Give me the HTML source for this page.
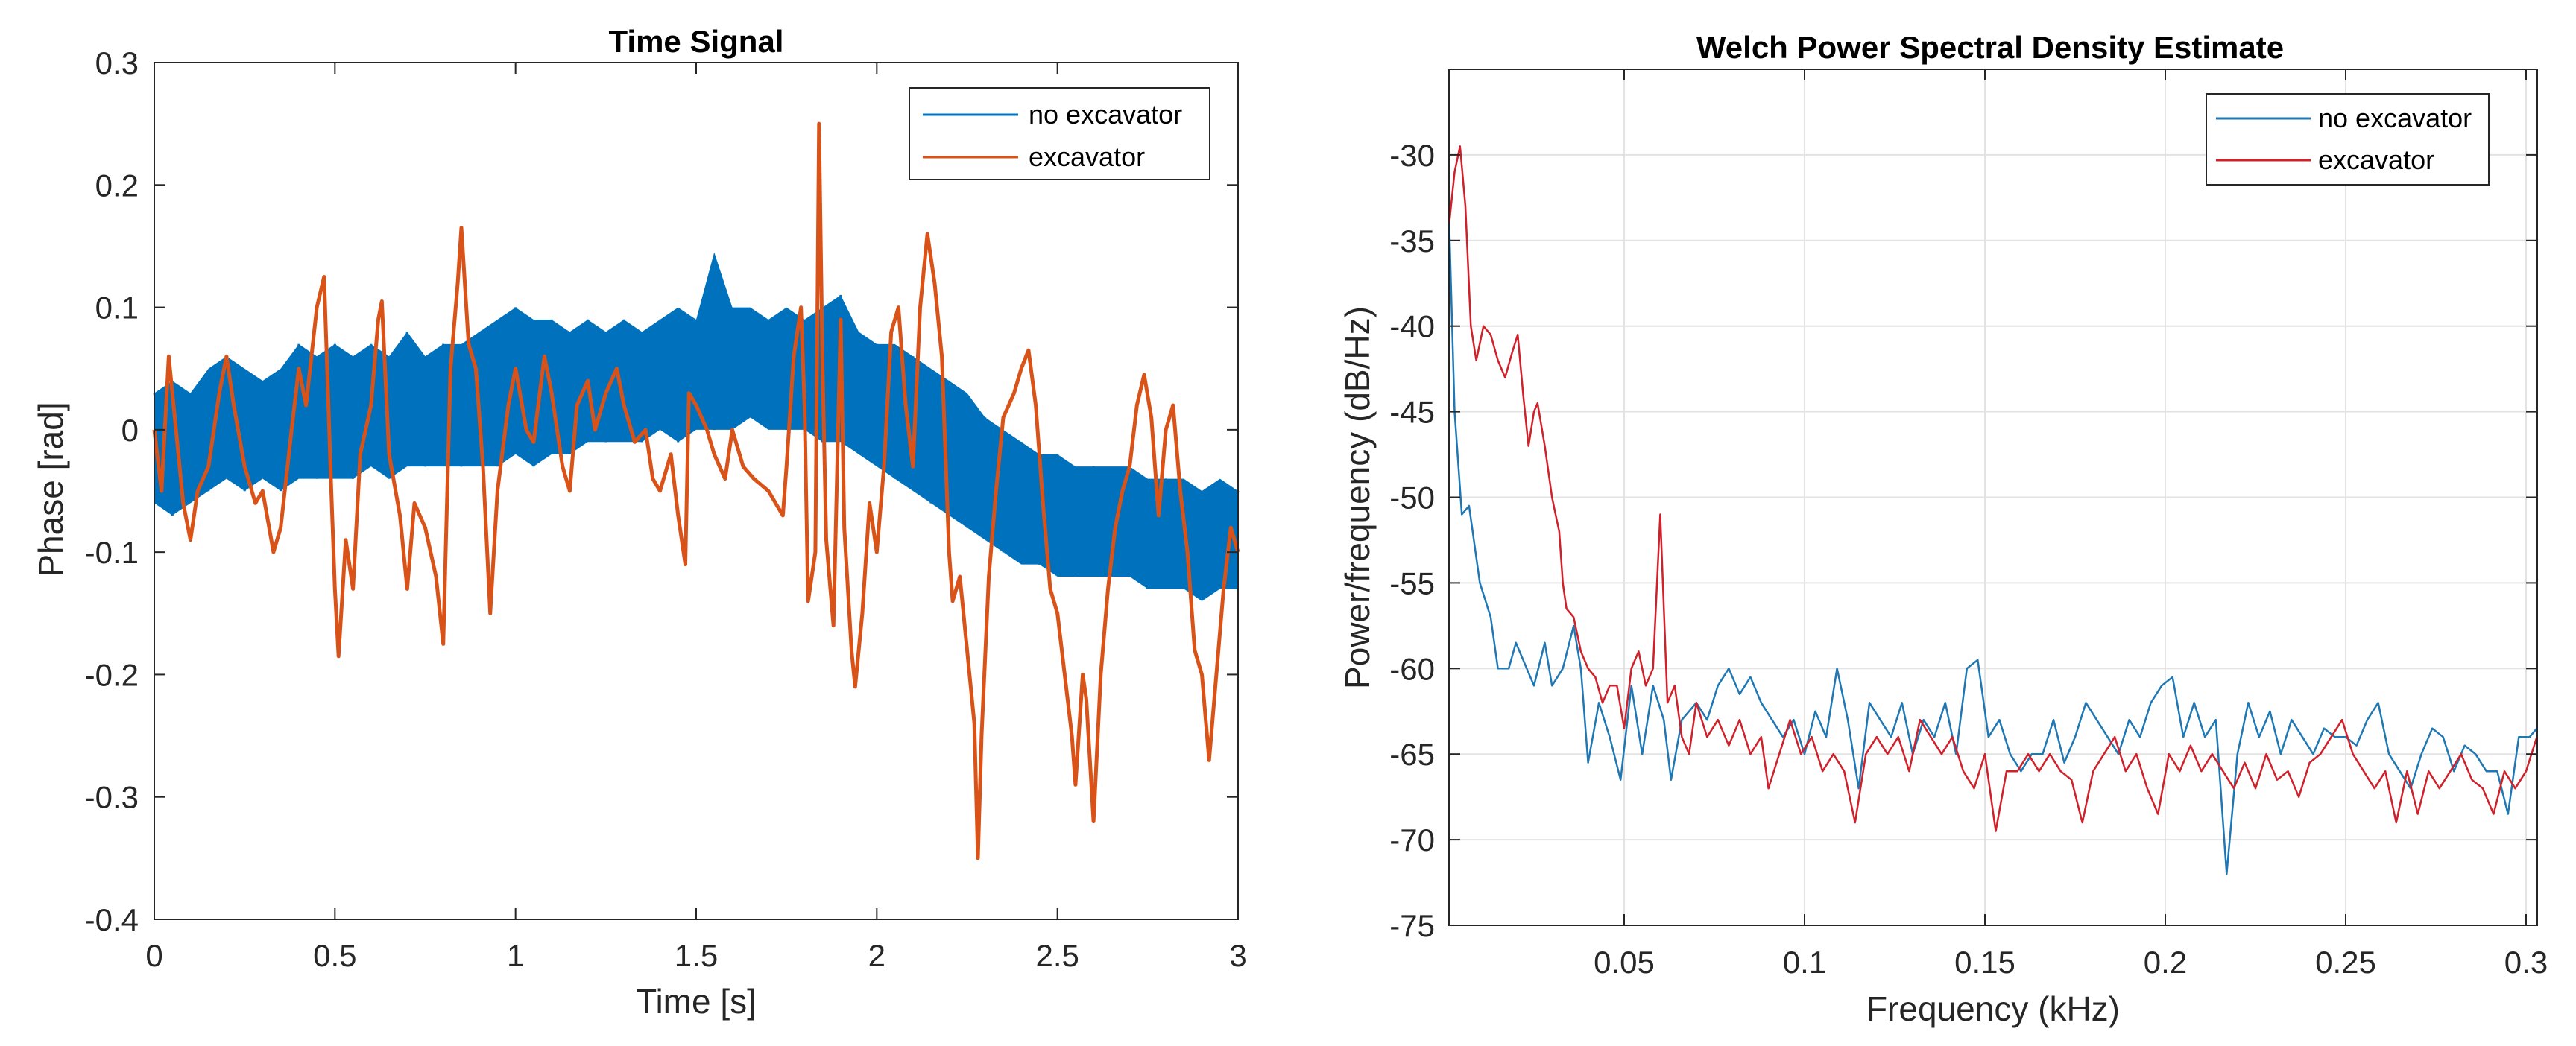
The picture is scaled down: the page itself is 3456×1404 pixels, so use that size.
<!DOCTYPE html>
<html><head><meta charset="utf-8"><style>
html,body{margin:0;padding:0;background:#fff;}
svg{display:block;font-family:"Liberation Sans",Arial,sans-serif;}
</style></head><body>
<svg id="fig" width="3456" height="1404" viewBox="0 0 3456 1404" xmlns="http://www.w3.org/2000/svg">
<rect width="3456" height="1404" fill="#fff"/>
<g id="left"></g>
<g id="right"></g>
</svg>
<script>
// ---- Time signal data ----
const tStep = 0.05;
const blueUpper = [0.03,0.04,0.03,0.05,0.06,0.05,0.04,0.05,0.07,0.06,0.07,0.06,0.07,0.06,0.08,0.06,0.07,0.07,0.08,0.09,0.10,0.09,0.09,0.08,0.09,0.08,0.09,0.08,0.09,0.10,0.09,0.145,0.10,0.10,0.09,0.10,0.09,0.10,0.11,0.08,0.07,0.07,0.06,0.05,0.04,0.03,0.01,0.00,-0.01,-0.02,-0.02,-0.03,-0.03,-0.03,-0.03,-0.04,-0.04,-0.04,-0.05,-0.04,-0.05];
const blueLower = [-0.06,-0.07,-0.06,-0.05,-0.04,-0.05,-0.04,-0.05,-0.04,-0.04,-0.04,-0.04,-0.03,-0.04,-0.03,-0.03,-0.03,-0.03,-0.03,-0.03,-0.02,-0.03,-0.02,-0.02,-0.01,-0.01,-0.01,-0.01,0.0,-0.01,0.0,0.0,0.0,0.01,0.0,0.0,0.0,-0.01,-0.01,-0.02,-0.03,-0.04,-0.05,-0.06,-0.07,-0.08,-0.09,-0.10,-0.11,-0.11,-0.12,-0.12,-0.12,-0.12,-0.12,-0.13,-0.13,-0.13,-0.14,-0.13,-0.13];
const orangeT = [0,0.02,0.04,0.06,0.08,0.1,0.12,0.15,0.18,0.2,0.22,0.25,0.28,0.3,0.33,0.35,0.38,0.4,0.42,0.45,0.47,0.49,0.5,0.51,0.53,0.55,0.57,0.6,0.62,0.63,0.65,0.68,0.7,0.72,0.75,0.78,0.8,0.82,0.84,0.85,0.87,0.89,0.91,0.93,0.95,0.98,1.0,1.03,1.05,1.08,1.1,1.13,1.15,1.17,1.2,1.22,1.25,1.28,1.3,1.33,1.36,1.38,1.4,1.43,1.45,1.47,1.48,1.5,1.53,1.55,1.58,1.6,1.63,1.66,1.7,1.72,1.74,1.75,1.77,1.79,1.8,1.81,1.83,1.84,1.85,1.86,1.88,1.9,1.91,1.93,1.94,1.96,1.98,2.0,2.02,2.04,2.06,2.08,2.1,2.12,2.14,2.16,2.18,2.2,2.21,2.23,2.25,2.27,2.28,2.29,2.31,2.33,2.35,2.38,2.4,2.42,2.44,2.46,2.48,2.5,2.52,2.54,2.55,2.57,2.58,2.6,2.62,2.64,2.66,2.68,2.7,2.72,2.74,2.76,2.78,2.8,2.82,2.84,2.86,2.88,2.9,2.92,2.94,2.96,2.98,3.0];
const orangeV = [0,-0.05,0.06,0.0,-0.06,-0.09,-0.05,-0.03,0.03,0.06,0.02,-0.03,-0.06,-0.05,-0.10,-0.08,0.0,0.05,0.02,0.1,0.125,-0.05,-0.13,-0.185,-0.09,-0.13,-0.02,0.02,0.09,0.105,-0.02,-0.07,-0.13,-0.06,-0.08,-0.12,-0.175,0.05,0.12,0.165,0.07,0.05,-0.03,-0.15,-0.05,0.02,0.05,0.0,-0.01,0.06,0.03,-0.03,-0.05,0.02,0.04,0.0,0.03,0.05,0.02,-0.01,0.0,-0.04,-0.05,-0.02,-0.07,-0.11,0.03,0.02,0.0,-0.02,-0.04,0.0,-0.03,-0.04,-0.05,-0.06,-0.07,-0.03,0.06,0.1,0.02,-0.14,-0.1,0.25,0.05,-0.09,-0.16,0.09,-0.08,-0.18,-0.21,-0.15,-0.06,-0.1,-0.03,0.08,0.1,0.02,-0.03,0.1,0.16,0.12,0.06,-0.1,-0.14,-0.12,-0.18,-0.24,-0.35,-0.25,-0.12,-0.05,0.01,0.03,0.05,0.065,0.02,-0.06,-0.13,-0.15,-0.2,-0.25,-0.29,-0.2,-0.22,-0.32,-0.2,-0.13,-0.08,-0.05,-0.03,0.02,0.045,0.01,-0.07,0.0,0.02,-0.05,-0.1,-0.18,-0.2,-0.27,-0.2,-0.13,-0.08,-0.1];
const leftXTicks = [0,0.5,1,1.5,2,2.5,3];
const leftXTickLabels = ["0","0.5","1","1.5","2","2.5","3"];
const leftYTicks = [-0.4,-0.3,-0.2,-0.1,0,0.1,0.2,0.3];
const leftYTickLabels = ["-0.4","-0.3","-0.2","-0.1","0","0.1","0.2","0.3"];
// ---- PSD data ----
const blueF = [0.0015,0.003,0.005,0.007,0.01,0.013,0.015,0.018,0.02,0.023,0.025,0.028,0.03,0.033,0.036,0.038,0.04,0.043,0.046,0.049,0.052,0.055,0.058,0.061,0.063,0.066,0.07,0.073,0.076,0.079,0.082,0.085,0.088,0.091,0.094,0.097,0.1,0.103,0.106,0.109,0.112,0.115,0.118,0.121,0.124,0.127,0.13,0.133,0.136,0.139,0.142,0.145,0.148,0.151,0.154,0.157,0.16,0.163,0.166,0.169,0.172,0.175,0.178,0.181,0.184,0.187,0.19,0.193,0.196,0.199,0.202,0.205,0.208,0.211,0.214,0.217,0.22,0.223,0.226,0.229,0.232,0.235,0.238,0.241,0.244,0.247,0.25,0.253,0.256,0.259,0.262,0.265,0.268,0.271,0.274,0.277,0.28,0.283,0.286,0.289,0.292,0.295,0.298,0.301,0.303];
const bluePSD = [-34,-45,-51,-50.5,-55,-57,-60,-60,-58.5,-60,-61,-58.5,-61,-60,-57.5,-60,-65.5,-62,-64,-66.5,-61,-65,-61,-63,-66.5,-63,-62,-63,-61,-60,-61.5,-60.5,-62,-63,-64,-63,-65,-62.5,-64,-60,-63,-67,-62,-63,-64,-62,-65,-63,-64,-62,-65,-60,-59.5,-64,-63,-65,-66,-65,-65,-63,-65.5,-64,-62,-63,-64,-65,-63,-64,-62,-61,-60.5,-64,-62,-64,-63,-72,-65,-62,-64,-62.5,-65,-63,-64,-65,-63.5,-64,-64,-64.5,-63,-62,-65,-66,-67,-65,-63.5,-64,-66,-64.5,-65,-66,-66,-68.5,-64,-64,-63.5];
const redF = [0.0015,0.003,0.0045,0.006,0.0075,0.009,0.011,0.013,0.015,0.017,0.019,0.0205,0.022,0.0235,0.025,0.026,0.028,0.03,0.031,0.032,0.033,0.034,0.036,0.038,0.04,0.042,0.044,0.046,0.048,0.05,0.052,0.054,0.056,0.058,0.06,0.062,0.064,0.066,0.068,0.07,0.073,0.076,0.079,0.082,0.085,0.088,0.09,0.093,0.096,0.099,0.102,0.105,0.108,0.111,0.114,0.117,0.12,0.123,0.126,0.129,0.132,0.135,0.138,0.141,0.144,0.147,0.15,0.153,0.156,0.159,0.162,0.165,0.168,0.171,0.174,0.177,0.18,0.183,0.186,0.189,0.192,0.195,0.198,0.201,0.204,0.207,0.21,0.213,0.216,0.219,0.222,0.225,0.228,0.231,0.234,0.237,0.24,0.243,0.246,0.249,0.252,0.255,0.258,0.261,0.264,0.267,0.27,0.273,0.276,0.279,0.282,0.285,0.288,0.291,0.294,0.297,0.3,0.303];
const redPSD = [-34,-31,-29.5,-33,-40,-42,-40,-40.5,-42,-43,-41.5,-40.5,-44,-47,-45,-44.5,-47,-50,-51,-52,-55,-56.5,-57,-59,-60,-60.5,-62,-61,-61,-63.5,-60,-59,-61,-60,-51,-62,-61,-64,-65,-62,-64,-63,-64.5,-63,-65,-64,-67,-65,-63,-65,-64,-66,-65,-66,-69,-65,-64,-65,-64,-66,-63,-64,-65,-64,-66,-67,-65,-69.5,-66,-66,-65,-66,-65,-66,-66.5,-69,-66,-65,-64,-66,-65,-67,-68.5,-65,-66,-64.5,-66,-65,-66,-67,-65.5,-67,-65,-66.5,-66,-67.5,-65.5,-65,-64,-63,-65,-66,-67,-66,-69,-66,-68.5,-66,-67,-66,-65,-66.5,-67,-68.5,-66,-67,-66,-64];
const rightXTicks = [0.05,0.1,0.15,0.2,0.25,0.3];
const rightXTickLabels = ["0.05","0.1","0.15","0.2","0.25","0.3"];
const rightYTicks = [-75,-70,-65,-60,-55,-50,-45,-40,-35,-30];
const rightYTickLabels = ["-75","-70","-65","-60","-55","-50","-45","-40","-35","-30"];

const NS = "http://www.w3.org/2000/svg";
function mk(parent, tag, attrs, text){
  const e = document.createElementNS(NS, tag);
  for (const k in attrs) e.setAttribute(k, attrs[k]);
  if (text !== undefined) e.textContent = text;
  parent.appendChild(e);
  return e;
}
function lin(d0,d1,r0,r1){ return v => r0 + (v-d0)/(d1-d0)*(r1-r0); }

// ---------- LEFT ----------
(function(){
  const g = document.getElementById('left');
  const L=207,R=1661,T=84,B=1234;
  const x = lin(0,3,L,R), y = lin(-0.4,0.3,B,T);
  // blue band
  let up=[], lo=[];
  for (let i=0;i<blueUpper.length;i++) up.push(x(i*tStep).toFixed(1)+','+y(blueUpper[i]).toFixed(1));
  for (let i=blueLower.length-1;i>=0;i--) lo.push(x(i*tStep).toFixed(1)+','+y(blueLower[i]).toFixed(1));
  const band = mk(g,'polygon',{points:up.concat(lo).join(' '),fill:'#0072BD'});
  
  
  let zz=[];
  for (let i=0;i<blueUpper.length;i++){
    zz.push(x(i*tStep).toFixed(1)+','+y(i%2?blueLower[i]:blueUpper[i]).toFixed(1));
  }
  const zl = mk(g,'polyline',{points:zz.join(' '),fill:'none',stroke:'#0072BD','stroke-width':3});
  
  
  const op = orangeT.map((t,i)=>x(t).toFixed(1)+','+y(orangeV[i]).toFixed(1)).join(' ');
  const ol = mk(g,'polyline',{points:op,fill:'none',stroke:'#D95319','stroke-width':5,'stroke-linejoin':'round'});
  
  
  // axes box
  const box = mk(g,'rect',{x:L,y:T,width:R-L,height:B-T,fill:'none',stroke:'#262626','stroke-width':2});
  
  
  leftXTicks.forEach((v,i)=>{
    mk(g,'line',{x1:x(v),x2:x(v),y1:B,y2:B-15,stroke:'#262626','stroke-width':2});
    mk(g,'line',{x1:x(v),x2:x(v),y1:T,y2:T+15,stroke:'#262626','stroke-width':2});
    const tx = mk(g,'text',{x:x(v),y:1297,'font-size':42,'text-anchor':'middle',fill:'#262626'},leftXTickLabels[i]);
    
    
  });
  leftYTicks.forEach((v,i)=>{
    mk(g,'line',{x1:L,x2:L+15,y1:y(v),y2:y(v),stroke:'#262626','stroke-width':2});
    mk(g,'line',{x1:R,x2:R-15,y1:y(v),y2:y(v),stroke:'#262626','stroke-width':2});
    const ty = mk(g,'text',{x:186,y:y(v)+15,'font-size':42,'text-anchor':'end',fill:'#262626'},leftYTickLabels[i]);
    
    
  });
  const tt = mk(g,'text',{x:(L+R)/2,y:70,'font-size':42,'font-weight':'bold','text-anchor':'middle',fill:'#000'},'Time Signal');
  
  
  const xl = mk(g,'text',{x:(L+R)/2,y:1360,'font-size':46,'text-anchor':'middle',fill:'#262626'},'Time [s]');
  
  
  const yl = mk(g,'text',{x:0,y:0,'font-size':46,'text-anchor':'middle',fill:'#262626',transform:'translate(84,657) rotate(-90)'},'Phase [rad]');
  
  
  // legend
  const lg = mk(g,'g',{});
  
  
  mk(lg,'rect',{x:1220,y:118,width:403,height:123,fill:'#fff',stroke:'#262626','stroke-width':2});
  mk(lg,'line',{x1:1238,x2:1366,y1:154,y2:154,stroke:'#0072BD','stroke-width':3});
  mk(lg,'line',{x1:1238,x2:1366,y1:211,y2:211,stroke:'#D95319','stroke-width':3});
  const e1 = mk(lg,'text',{x:1380,y:166,'font-size':36,fill:'#000'},'no excavator');
  
  
  const e2 = mk(lg,'text',{x:1380,y:223,'font-size':36,fill:'#000'},'excavator');
  
  
})();

// ---------- RIGHT ----------
(function(){
  const g = document.getElementById('right');
  const L=1944,R=3404,T=93,B=1242;
  const x = lin(0,0.3,1937,3389), y = lin(-75,-25,B,T);
  rightXTicks.forEach(v=>{ mk(g,'line',{x1:x(v),x2:x(v),y1:T,y2:B,stroke:'#e3e3e3','stroke-width':2}); });
  rightYTicks.forEach(v=>{ mk(g,'line',{x1:L,x2:R,y1:y(v),y2:y(v),stroke:'#e3e3e3','stroke-width':2}); });
  const bp = blueF.map((f,i)=>x(f).toFixed(1)+','+y(bluePSD[i]).toFixed(1)).join(' ');
  const bl = mk(g,'polyline',{points:bp,fill:'none',stroke:'#1f78b4','stroke-width':2.5,'stroke-linejoin':'round'});
  
  
  const rp = redF.map((f,i)=>x(f).toFixed(1)+','+y(redPSD[i]).toFixed(1)).join(' ');
  const rl = mk(g,'polyline',{points:rp,fill:'none',stroke:'#d0202a','stroke-width':2.5,'stroke-linejoin':'round'});
  
  
  const box = mk(g,'rect',{x:L,y:T,width:R-L,height:B-T,fill:'none',stroke:'#262626','stroke-width':2});
  
  
  rightXTicks.forEach((v,i)=>{
    mk(g,'line',{x1:x(v),x2:x(v),y1:B,y2:B-15,stroke:'#262626','stroke-width':2});
    mk(g,'line',{x1:x(v),x2:x(v),y1:T,y2:T+15,stroke:'#262626','stroke-width':2});
    const tx = mk(g,'text',{x:x(v),y:1306,'font-size':42,'text-anchor':'middle',fill:'#262626'},rightXTickLabels[i]);
    
    
  });
  rightYTicks.forEach((v,i)=>{
    mk(g,'line',{x1:L,x2:L+15,y1:y(v),y2:y(v),stroke:'#262626','stroke-width':2});
    mk(g,'line',{x1:R,x2:R-15,y1:y(v),y2:y(v),stroke:'#262626','stroke-width':2});
    const ty = mk(g,'text',{x:1925,y:y(v)+15,'font-size':42,'text-anchor':'end',fill:'#262626'},rightYTickLabels[i]);
    
    
  });
  const tt = mk(g,'text',{x:2670,y:78,'font-size':42,'font-weight':'bold','text-anchor':'middle',fill:'#000'},'Welch Power Spectral Density Estimate');
  
  
  const xl = mk(g,'text',{x:2674,y:1370,'font-size':46,'text-anchor':'middle',fill:'#262626'},'Frequency (kHz)');
  
  
  const yl = mk(g,'text',{x:0,y:0,'font-size':46,'text-anchor':'middle',fill:'#262626',transform:'translate(1837,668) rotate(-90)'},'Power/frequency (dB/Hz)');
  
  
  const lg = mk(g,'g',{});
  
  
  mk(lg,'rect',{x:2960,y:126,width:379,height:122,fill:'#fff',stroke:'#262626','stroke-width':2});
  mk(lg,'line',{x1:2973,x2:3100,y1:159,y2:159,stroke:'#1f78b4','stroke-width':3});
  mk(lg,'line',{x1:2973,x2:3100,y1:215,y2:215,stroke:'#d0202a','stroke-width':3});
  const e1 = mk(lg,'text',{x:3110,y:171,'font-size':36,fill:'#000'},'no excavator');
  
  
  const e2 = mk(lg,'text',{x:3110,y:227,'font-size':36,fill:'#000'},'excavator');
  
  
})();
</script>
</body></html>
